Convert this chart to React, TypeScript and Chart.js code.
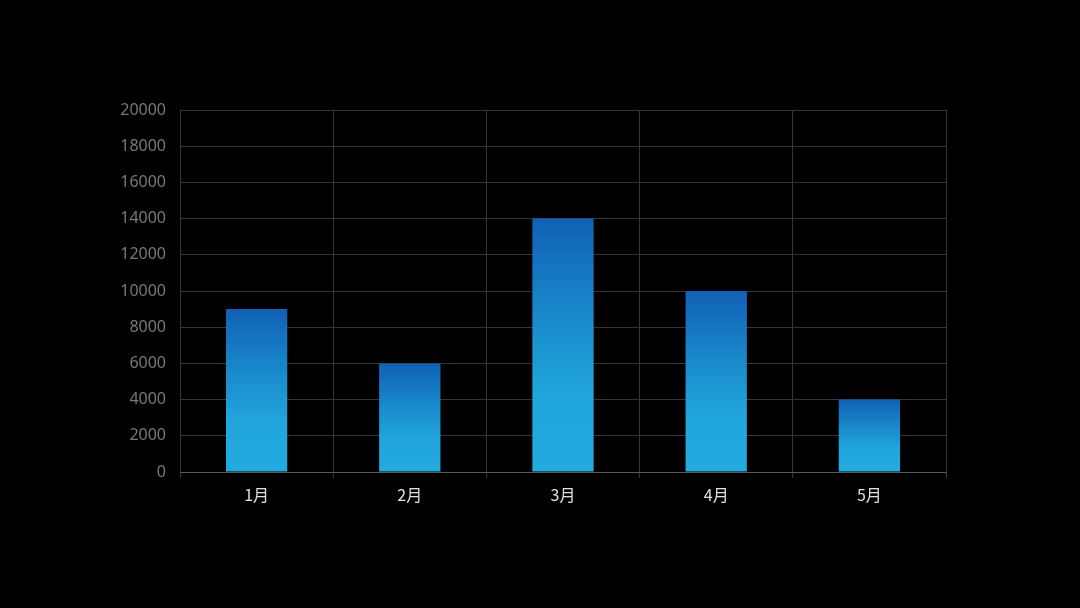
import React, { useEffect, useRef } from "react";
import { Chart, registerables } from "chart.js";

Chart.register(...registerables);

const categories = ["1月", "2月", "3月", "4月", "5月"];
const values = [9000, 6000, 14000, 10000, 4000];
const yMin = 0;
const yMax = 20000;
const yStep = 2000;

export default function App() {
  const ref = useRef<HTMLCanvasElement | null>(null);

  useEffect(() => {
    document.body.style.margin = "0";
    document.body.style.background = "#000";
    const canvas = ref.current;
    if (!canvas) return;
    const chart = new Chart(canvas, {
      type: "bar",
      data: {
        labels: categories,
        datasets: [
          {
            data: values,
            barPercentage: 0.4,
            categoryPercentage: 1,
            borderWidth: 0,
            backgroundColor: (ctx: any) => {
              const c = ctx.chart;
              const area = c.chartArea;
              if (!area || ctx.dataIndex === undefined) return "#1e9ad6";
              const ys = c.scales.y;
              const top = ys.getPixelForValue(values[ctx.dataIndex]);
              const bottom = ys.getPixelForValue(0);
              const g = c.ctx.createLinearGradient(0, top, 0, bottom);
              g.addColorStop(0, "#1160b5");
              g.addColorStop(0.4, "#1a8bcc");
              g.addColorStop(0.7, "#21a6dc");
              g.addColorStop(1, "#23aadf");
              return g;
            },
          },
        ],
      },
      options: {
        animation: false,
        responsive: false,
        maintainAspectRatio: false,
        layout: { padding: { top: 110, right: 134, left: 0, bottom: 0 } },
        plugins: { legend: { display: false }, tooltip: { enabled: false } },
        scales: {
          x: {
            offset: true,
            grid: {
              offset: true,
              color: "#363636",
              lineWidth: 1,
              tickLength: 6,
              drawTicks: true,
            },
            border: { color: "#5a5a5a", width: 1 },
            ticks: {
              color: "#e0e0e0",
              padding: 7,
              font: { family: "'Noto Sans CJK SC', 'Noto Sans', sans-serif", size: 16 },
            },
            afterFit: (s: any) => {
              s.height = 136;
            },
          },
          y: {
            min: yMin,
            max: yMax,
            grid: { color: "#363636", lineWidth: 1, drawTicks: false },
            border: { display: false },
            ticks: {
              stepSize: yStep,
              color: "#787878",
              padding: 14,
              font: { family: "'Noto Sans', sans-serif", size: 16 },
              callback: (v: any) => String(v),
            },
            afterFit: (s: any) => {
              s.width = 180;
            },
          },
        },
      },
    });
    return () => chart.destroy();
  }, []);

  return (
    <div style={{ position: "fixed", left: 0, top: 0, width: 1080, height: 608, background: "#000" }}>
      <canvas ref={ref} width={1080} height={608} style={{ display: "block" }} />
    </div>
  );
}
